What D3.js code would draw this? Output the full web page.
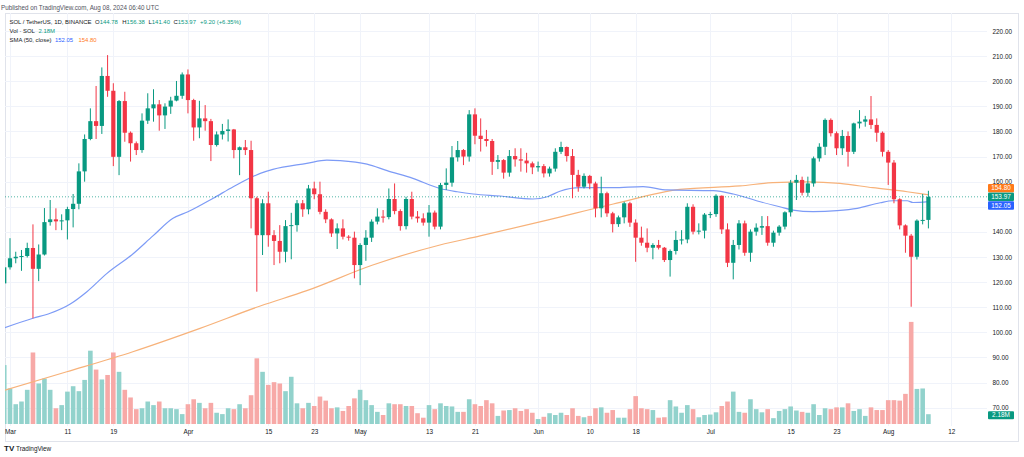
<!DOCTYPE html>
<html><head><meta charset="utf-8">
<script src="https://cdn.jsdelivr.net/npm/d3@7"></script>
<style>html,body{margin:0;padding:0;background:#fff;overflow:hidden}svg{display:block;font-family:"Liberation Sans",Arial,sans-serif}</style>
</head><body><svg id="c" width="1024" height="457"></svg>
<script>
// ---------- DATA ----------
const firstDay = "2024-02-29"; // first (partly hidden) daily candle
const opens = [119.5,125.9,129.5,130.1,130.4,133.6,125.3,131.0,143.9,145.0,
144.2,144.6,149.1,151.2,164.1,177.0,184.1,182.2,202.1,196.2,
169.9,192.1,179.5,175.3,172.6,184.3,189.2,190.8,186.4,189.9,
192.3,194.2,202.7,192.5,181.6,185.2,184.1,174.6,178.8,180.2,
180.8,172.6,173.7,172.6,153.4,138.7,151.4,138.7,136.4,132.1,
142.3,142.7,151.4,149.0,157.3,155.0,148.0,145.0,139.4,141.4,
138.1,137.7,126.8,134.8,137.7,144.1,146.1,145.9,153.1,148.3,
142.3,153.1,146.1,145.4,143.7,147.7,142.1,158.7,159.6,169.7,
172.6,170.0,186.8,178.3,177.0,176.2,167.9,168.6,163.6,170.2,
168.9,168.4,167.3,165.7,166.2,163.3,165.2,171.9,173.8,170.2,
162.7,158.0,162.3,159.3,149.4,155.4,147.4,143.1,145.8,151.4,
143.7,137.7,135.7,133.7,134.8,133.7,128.8,132.4,136.8,137.0,
150.0,140.1,140.5,146.9,147.1,154.4,141.0,127.7,134.8,143.4,
131.7,140.1,141.7,142.3,135.7,139.7,142.1,147.8,159.6,160.7,
155.6,159.3,169.3,173.9,184.6,179.3,173.3,178.2,171.9,183.2,
183.9,184.8,182.6,179.5,171.9,167.6,153.0,142.6,138.5,130.1,
144.5,144.78];
const highs = [127.0,137.5,132.1,132.8,135.7,143.0,135.0,149.5,152.7,149.4,
147.0,150.0,155.1,167.3,178.8,189.2,198.1,205.5,210.4,199.2,
192.5,195.8,180.0,176.0,187.2,195.2,196.8,192.5,191.2,193.8,
200.1,203.5,204.7,193.0,192.2,190.5,185.0,180.0,183.0,184.8,
181.0,174.0,176.6,176.3,154.0,153.0,156.0,140.7,142.7,144.7,
147.6,152.7,152.7,158.7,160.0,160.0,149.0,145.4,143.4,145.0,
138.7,140.1,135.5,140.7,145.0,149.4,148.7,157.3,159.3,149.0,
154.0,156.0,148.3,147.4,150.7,148.5,159.5,165.3,174.2,176.2,
173.0,188.5,189.2,185.2,180.6,177.0,170.6,169.0,172.6,173.3,
173.3,171.5,168.0,168.0,167.0,166.0,173.3,175.9,174.0,173.0,
164.7,163.3,162.7,160.0,162.0,156.0,148.0,146.5,152.0,152.0,
145.0,142.1,141.4,135.5,136.8,134.0,133.0,140.4,140.7,151.4,
151.0,143.4,147.5,148.0,155.0,154.5,143.4,136.8,144.7,144.5,
141.0,143.4,146.3,146.3,140.5,142.7,148.2,160.7,162.7,162.0,
162.0,170.0,175.3,185.2,185.2,180.0,180.6,180.0,183.5,188.5,
186.2,194.1,185.2,180.0,172.6,168.6,153.4,143.0,139.2,145.0,
155.1,156.38];
const lows = [118.7,125.0,127.5,124.5,129.8,105.6,120.4,130.6,142.5,140.7,
140.7,137.0,141.8,149.0,160.0,176.5,177.0,179.0,193.8,166.2,
162.6,175.9,168.0,170.6,171.5,183.0,183.9,180.3,181.0,187.0,
192.0,193.0,187.2,176.3,177.3,180.3,168.2,174.0,176.8,176.0,
169.3,162.6,170.6,141.4,116.2,130.8,134.1,126.8,127.5,127.9,
129.1,140.1,146.0,147.0,153.0,147.0,143.5,138.0,133.2,137.0,
136.5,121.5,118.8,128.5,136.0,143.0,143.7,145.0,147.0,140.5,
141.0,145.0,143.7,142.5,138.1,141.0,141.0,156.7,158.0,168.0,
166.6,168.0,174.9,172.0,174.0,162.7,165.0,161.2,162.0,166.0,
164.0,163.6,163.0,164.0,161.7,162.0,164.0,171.0,168.0,153.4,
156.0,157.3,157.0,145.8,145.8,146.0,139.8,142.0,143.4,142.0,
128.1,134.5,131.9,129.1,133.0,128.0,122.2,131.0,135.0,135.5,
139.0,139.0,137.4,145.5,146.0,139.2,126.0,121.1,133.0,130.5,
128.1,138.5,138.8,134.5,134.1,138.5,141.0,146.1,152.7,154.5,
154.0,158.0,168.0,170.6,178.0,170.6,170.6,166.0,171.0,181.2,
181.9,181.0,175.9,170.0,158.7,151.4,141.0,131.7,110.2,129.0,
143.0,141.40];
const closes = [125.9,129.5,130.1,130.4,133.6,125.3,131.0,143.9,145.0,144.2,
144.6,149.1,151.2,164.1,177.0,184.1,182.2,202.1,196.2,169.9,
192.1,179.5,175.3,172.6,184.3,189.2,190.8,186.4,189.9,192.3,
194.2,202.7,192.5,181.6,185.2,184.1,174.6,178.8,180.2,180.8,
172.6,173.7,172.6,153.4,138.7,151.4,138.7,136.4,132.1,142.3,
142.7,151.4,149.0,157.3,155.0,148.0,145.0,139.4,141.4,138.1,
137.7,126.8,134.8,137.7,144.1,146.1,145.9,153.1,148.3,142.3,
153.1,146.1,145.4,143.7,147.7,142.1,158.7,159.6,169.7,172.6,
170.0,186.8,178.3,177.0,176.2,167.9,168.6,163.6,170.2,168.9,
168.4,167.3,165.7,166.2,163.3,165.2,171.9,173.8,170.2,162.7,
158.0,162.3,159.3,149.4,155.4,147.4,143.1,145.8,151.4,143.7,
137.7,135.7,133.7,134.8,133.7,128.8,132.4,136.8,137.0,150.0,
140.1,140.5,146.9,147.1,154.4,141.0,127.7,134.8,143.4,131.7,
140.1,141.7,142.3,135.7,139.7,142.1,147.8,159.6,160.7,155.6,
159.3,169.3,173.9,184.6,179.3,173.3,178.2,171.9,183.2,183.9,
184.8,182.6,179.5,171.9,167.6,153.0,142.6,138.5,130.1,144.5,
144.77,153.97];
// volume, millions of SOL
const volumes = [13.1,7.9,4.4,5.0,7.6,15.9,9.0,10.1,7.6,3.5,
4.2,7.2,8.4,7.3,9.8,16.3,12.1,9.9,10.9,15.9,
11.6,7.6,5.9,3.3,3.5,5.0,4.2,5.0,3.5,3.5,
3.3,2.2,4.4,5.5,4.7,3.5,4.7,2.5,2.2,3.5,
3.3,4.4,3.5,6.4,14.6,11.6,8.7,9.3,9.0,7.3,
10.5,4.6,3.5,4.7,4.0,6.1,5.2,3.5,3.7,2.9,
4.0,5.7,7.6,5.3,4.2,2.7,2.0,4.6,4.4,4.4,
4.0,4.0,2.4,1.4,4.2,3.3,4.6,4.0,3.9,2.7,
2.7,5.5,4.4,4.0,5.3,4.6,1.8,3.0,3.1,3.5,
2.9,3.3,2.5,1.1,1.6,2.4,2.0,2.5,2.0,3.5,
1.8,1.5,1.8,3.5,3.7,2.5,3.1,1.4,1.4,3.3,
6.2,3.5,3.3,3.1,1.4,1.5,5.3,3.9,2.5,4.2,
3.3,1.5,2.0,2.1,2.6,4.0,5.0,7.2,2.7,2.5,
5.5,3.3,2.6,3.3,1.3,2.9,3.3,3.9,3.0,2.7,
2.5,4.4,2.0,3.5,3.3,3.7,3.7,4.6,2.9,3.3,
1.8,3.7,3.1,3.1,5.3,5.3,5.2,6.7,22.7,7.8,
7.9,2.18];
// moving averages: offsets in days from 2024-03-01, values
const sma50Days   = [-1,4,7,10.5,13.4,16.9,21.4,24.9,28.4,31,35.4,38.9,43.6,45.8,51.7,55.2,57.5,62.2,65.7,70.2,74.9,77.9,80.7,85.4,91.1,93.6,95.8,99.3,105.1,110.3,114.5,122.5,126,130.7,134.1,136.4,139.9,144.1,147.6,151.6,153.8,156.3,157.3,160];
const sma50Values = [101.8,105.6,107.6,111.3,116.2,123.5,131.2,138.4,145.4,148.0,153.4,158.0,163.3,164.9,167.3,168.6,168.4,167.0,164.4,161.3,157.3,156.0,155.1,154.3,153.1,154.0,156.2,157.6,157.6,158.0,156.7,156.4,155.1,152.0,150.0,148.7,148.1,148.5,149.4,151.6,152.4,152.4,151.7,152.05];
const sma200Days   = [-1,9.9,21.4,33.1,43.6,51.7,63.2,74.9,81.9,93.6,105.1,116.7,127.2,132.9,138.9,144.6,150.3,156.3,160];
const sma200Values = [76.9,84.3,92.3,101.6,110.5,116.6,126.8,134.8,138.4,144.7,151.1,156.9,158.3,159.6,159.9,159.3,157.6,156.0,154.8];
const priceTicks = [70,80,90,100,110,120,130,140,150,160,170,180,190,200,210,220];
const timeTicks  = ["2024-03-01","2024-03-11","2024-03-19","2024-04-01","2024-04-15","2024-04-23","2024-05-01","2024-05-13","2024-05-21","2024-06-01","2024-06-10","2024-06-18","2024-07-01","2024-07-15","2024-07-23","2024-08-01","2024-08-12"];
const timeLabels = ["Mar","11","19","Apr","15","23","May","13","21","Jun","10","18","Jul","15","23","Aug","12"];
const symbolText = "SOL / TetherUS, 1D, BINANCE";
const ohlcLabels = ["O","H","L","C"];
const ohlcValues = ["144.78","156.38","141.40","153.97"];
const changeText = "+9.20 (+6.35%)";
const volText = "Vol · SOL"; const volValue = "2.18M";
const smaText = "SMA (50, close)"; const smaValues = ["152.05","154.80"];
const publishedText = "Published on TradingView.com, Aug 08, 2024 06:40 UTC";

// ---------- STYLE / LAYOUT ----------
const UP="#089981", DOWN="#F23645", VUP="#92d2cc", VDOWN="#f7a9a7";
const BLUE="#2962ff", ORANGE="#ff7a1a";
const FS=6.4, FSL=5.95, TXT="#131722";
const pane={l:5,r:987,t:13,b:426};
const DAY=86400000;
const t0=new Date(firstDay+"T00:00:00Z").getTime();
const bars=opens.map((o,i)=>({date:new Date(t0+i*DAY),o,h:highs[i],l:lows[i],c:closes[i],v:volumes[i]}));
const mar1=Date.UTC(2024,2,1);

const x=d3.scaleUtc().domain([new Date(mar1),new Date(Date.UTC(2024,7,12))]).range([10,951.36]);
const y=d3.scaleLinear().domain([70,220]).range([407.7,31]);
const yv=d3.scaleLinear().domain([0,22.7]).range([424,321.9]);

const svg=d3.select("#c");
svg.append("rect").attr("width",1024).attr("height",457).attr("fill","#fff");
svg.append("defs").append("clipPath").attr("id","clip").append("rect")
  .attr("x",pane.l).attr("y",pane.t).attr("width",pane.r-pane.l).attr("height",pane.b-pane.t);

// frame
svg.append("rect").attr("x",pane.l+0.5).attr("y",pane.t+0.5).attr("width",1018-pane.l).attr("height",441-pane.t)
  .attr("fill","none").attr("stroke","#e0e3eb").attr("stroke-width",1);

// grid
const grid=svg.append("g").attr("clip-path","url(#clip)");
grid.selectAll("line.h").data(priceTicks).join("line")
  .attr("x1",pane.l).attr("x2",pane.r).attr("y1",d=>Math.round(y(d))+0.5).attr("y2",d=>Math.round(y(d))+0.5)
  .attr("stroke","#f0f3fa");
grid.selectAll("line.v").data(timeTicks).join("line")
  .attr("y1",pane.t).attr("y2",pane.b).attr("x1",d=>Math.round(x(new Date(d+"T00:00:00Z")))+0.5).attr("x2",d=>Math.round(x(new Date(d+"T00:00:00Z")))+0.5)
  .attr("stroke","#f0f3fa");

const plot=svg.append("g").attr("clip-path","url(#clip)");
// volume
const vw=4.6;
plot.append("g").selectAll("rect").data(bars).join("rect")
  .attr("x",d=>x(d.date)-vw/2).attr("width",vw)
  .attr("y",d=>yv(d.v)).attr("height",d=>yv(0)-yv(d.v))
  .attr("fill",d=>d.c>=d.o?VUP:VDOWN);

// moving averages
const line=d3.line().x(d=>x(new Date(mar1+d[0]*DAY))).y(d=>y(d[1])).curve(d3.curveMonotoneX);
plot.append("path").datum(sma200Days.map((d,i)=>[d,sma200Values[i]]))
  .attr("d",line).attr("fill","none").attr("stroke","#f7b27a").attr("stroke-width",1.2);
plot.append("path").datum(sma50Days.map((d,i)=>[d,sma50Values[i]]))
  .attr("d",line).attr("fill","none").attr("stroke","#7d9bf6").attr("stroke-width",1.2);

// last price line
const lastClose=closes[closes.length-1];
plot.append("line").attr("x1",pane.l).attr("x2",pane.r).attr("y1",y(lastClose)).attr("y2",y(lastClose))
  .attr("stroke",UP).attr("stroke-opacity",0.7).attr("stroke-dasharray","1,2");

// candles
const bw=4.2;
const cg=plot.append("g");
cg.selectAll("line").data(bars).join("line")
  .attr("x1",d=>x(d.date)).attr("x2",d=>x(d.date))
  .attr("y1",d=>y(d.h)).attr("y2",d=>y(d.l))
  .attr("stroke",d=>d.c>=d.o?UP:DOWN).attr("stroke-width",1);
cg.selectAll("rect").data(bars).join("rect")
  .attr("x",d=>x(d.date)-bw/2).attr("width",bw)
  .attr("y",d=>y(Math.max(d.o,d.c))).attr("height",d=>Math.max(1,Math.abs(y(d.o)-y(d.c))))
  .attr("fill",d=>d.c>=d.o?UP:DOWN);

// price axis
const boxes=[{v:lastClose,c:UP},{v:+smaValues[1],c:ORANGE},{v:+smaValues[0],c:BLUE}];
boxes.forEach(b=>b.y=y(b.v));
const gap=8.7;
const above=boxes.filter(b=>b.v>lastClose).sort((a,b)=>a.v-b.v);
let cur=boxes[0].y; above.forEach(b=>{b.y=Math.min(b.y,cur-gap);cur=b.y;});
const below=boxes.filter(b=>b.v<lastClose).sort((a,b)=>b.v-a.v);
cur=boxes[0].y; below.forEach(b=>{b.y=Math.max(b.y,cur+gap);cur=b.y;});

const ax=svg.append("g").attr("transform","translate(992.5,0)")
  .call(d3.axisRight(y).tickValues(priceTicks.filter(p=>!boxes.some(b=>Math.abs(y(p)-b.y)<6))).tickSize(0).tickPadding(0).tickFormat(d3.format(".2f")));
ax.select(".domain").remove();
ax.selectAll("text").attr("font-size",FS).attr("fill",TXT).attr("font-family","Liberation Sans, Arial, sans-serif");

const bg=svg.append("g");
boxes.forEach(b=>{
  bg.append("rect").attr("x",988).attr("y",b.y-4.2).attr("width",26).attr("height",8.4).attr("rx",1).attr("fill",b.c);
  bg.append("text").attr("x",1001).attr("y",b.y).attr("dy","0.35em").attr("text-anchor","middle")
    .attr("font-size",FS).attr("fill","#fff").text(d3.format(".2f")(b.v));
});
// volume value box
const vy=yv(volumes[volumes.length-1])+1;
bg.append("rect").attr("x",988).attr("y",vy-4).attr("width",26).attr("height",8).attr("rx",1).attr("fill",UP);
bg.append("text").attr("x",1001).attr("y",vy).attr("dy","0.35em").attr("text-anchor","middle")
  .attr("font-size",FS).attr("fill","#fff").text(volValue);

// time axis
const tx=svg.append("g").attr("transform","translate(0,429.5)")
  .call(d3.axisBottom(x).tickValues(timeTicks.map(d=>new Date(d+"T00:00:00Z"))).tickSize(0).tickPadding(0).tickFormat((d,i)=>timeLabels[i]));
tx.select(".domain").remove();
tx.selectAll("text").attr("font-size",FS).attr("fill",TXT).attr("font-family","Liberation Sans, Arial, sans-serif");

// header and legend
svg.append("text").attr("x",1).attr("y",9.5).attr("font-size",7.5).attr("fill","#50535e")
  .attr("textLength",158).attr("lengthAdjust","spacingAndGlyphs").text(publishedText);
svg.append("text").attr("x",9.5).attr("y",24).attr("font-size",FSL).attr("fill",TXT)
  .attr("textLength",82).attr("lengthAdjust","spacingAndGlyphs").text(symbolText);
const ohlcX=[95,122.3,148.5,173.5];
ohlcLabels.forEach((lab,i)=>{
  const t=svg.append("text").attr("x",ohlcX[i]).attr("y",24).attr("font-size",FSL).attr("fill",TXT);
  t.append("tspan").text(lab);
  t.append("tspan").attr("fill",UP).text(ohlcValues[i]);
});
svg.append("text").attr("x",200).attr("y",24).attr("font-size",FSL).attr("fill",UP).text(changeText);
svg.append("text").attr("x",9.5).attr("y",33).attr("font-size",FSL).attr("fill",TXT).text(volText);
svg.append("text").attr("x",38.5).attr("y",33).attr("font-size",FSL).attr("fill",UP).text(volValue);
svg.append("text").attr("x",9.5).attr("y",42).attr("font-size",FSL).attr("fill",TXT).text(smaText);
svg.append("text").attr("x",55).attr("y",42).attr("font-size",FSL).attr("fill",BLUE).text(smaValues[0]);
svg.append("text").attr("x",78.5).attr("y",42).attr("font-size",FSL).attr("fill",ORANGE).text(smaValues[1]);

// logo
svg.append("text").attr("x",4).attr("y",451).attr("font-size",8).attr("font-weight",900).attr("fill",TXT).text("TV");
svg.append("text").attr("x",16).attr("y",451).attr("font-size",FS).attr("fill",TXT).text("TradingView");
</script></body></html>
